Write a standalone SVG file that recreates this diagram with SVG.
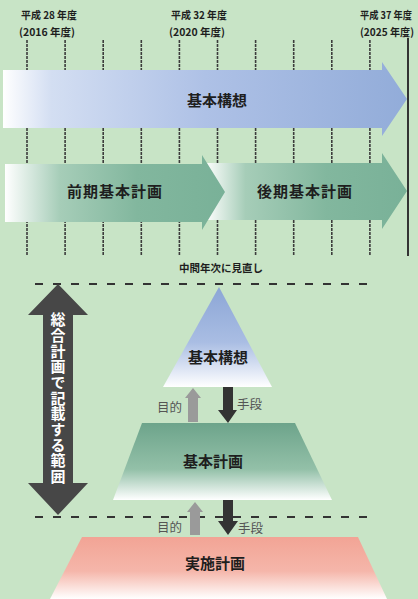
<svg xmlns="http://www.w3.org/2000/svg" width="418" height="599" viewBox="0 0 418 599">
<defs>
<style>
text{font-family:"Noto Sans CJK JP","Noto Sans",sans-serif;fill:#1e1e1e}
.yr{font-size:10.5px;font-weight:bold}
.lbl{font-size:15px;font-weight:bold;text-anchor:middle;dominant-baseline:central}
.small{font-size:12.5px;fill:#555;dominant-baseline:central}
.tick{stroke:#3c3c3c;stroke-width:1.6;stroke-dasharray:3 1}
.dash{stroke:#333;stroke-width:2;stroke-dasharray:8 10;fill:none}
</style>
<linearGradient id="gBlue" x1="0" y1="0" x2="1" y2="0">
<stop offset="0" stop-color="#ffffff"/><stop offset="0.12" stop-color="#d3def2"/><stop offset="0.5" stop-color="#aec1e6"/><stop offset="1" stop-color="#92acd9"/>
</linearGradient>
<linearGradient id="gGreen" x1="0" y1="0" x2="1" y2="0">
<stop offset="0" stop-color="#ffffff"/><stop offset="0.25" stop-color="#a6cdb8"/><stop offset="0.6" stop-color="#82b79e"/><stop offset="1" stop-color="#79b198"/>
</linearGradient>
<linearGradient id="gGreen2" x1="0" y1="0" x2="1" y2="0">
<stop offset="0" stop-color="#ffffff"/><stop offset="0.2" stop-color="#a6cdb8"/><stop offset="0.6" stop-color="#82b79e"/><stop offset="1" stop-color="#79b198"/>
</linearGradient>
<linearGradient id="vBlue" x1="0" y1="0" x2="0" y2="1">
<stop offset="0" stop-color="#8ca6d6"/><stop offset="0.55" stop-color="#a9bde3"/><stop offset="1" stop-color="#ffffff"/>
</linearGradient>
<linearGradient id="vGreen" x1="0" y1="0" x2="0" y2="1">
<stop offset="0" stop-color="#6da48b"/><stop offset="0.6" stop-color="#93c0a8"/><stop offset="1" stop-color="#ffffff"/>
</linearGradient>
<linearGradient id="vPink" x1="0" y1="0" x2="0" y2="1">
<stop offset="0" stop-color="#f2a495"/><stop offset="0.55" stop-color="#f5b6aa"/><stop offset="1" stop-color="#ffffff"/>
</linearGradient>
</defs>
<rect width="418" height="599" fill="#c8e4c6"/>

<g id="timeline">
<line class="tick" x1="27" y1="40" x2="27" y2="256"/>
<line class="tick" x1="65.1" y1="40" x2="65.1" y2="256"/>
<line class="tick" x1="103.2" y1="40" x2="103.2" y2="256"/>
<line class="tick" x1="141.3" y1="40" x2="141.3" y2="256"/>
<line class="tick" x1="179.4" y1="40" x2="179.4" y2="256"/>
<line class="tick" x1="217.5" y1="40" x2="217.5" y2="256"/>
<line class="tick" x1="255.6" y1="40" x2="255.6" y2="256"/>
<line class="tick" x1="293.7" y1="40" x2="293.7" y2="256"/>
<line class="tick" x1="331.8" y1="40" x2="331.8" y2="256"/>
<line class="tick" x1="369.9" y1="40" x2="369.9" y2="256"/>
<line x1="408" y1="38" x2="408" y2="256" stroke="#333" stroke-width="2"/>
<text class="yr" x="21" y="19" textLength="56" lengthAdjust="spacingAndGlyphs">平成 28 年度</text>
<text class="yr" x="19" y="36" textLength="56" lengthAdjust="spacingAndGlyphs">(2016 年度)</text>
<text class="yr" x="171" y="19" textLength="56" lengthAdjust="spacingAndGlyphs">平成 32 年度</text>
<text class="yr" x="169" y="36" textLength="56" lengthAdjust="spacingAndGlyphs">(2020 年度)</text>
<text class="yr" x="360" y="19" textLength="52" lengthAdjust="spacingAndGlyphs">平成 37 年度</text>
<text class="yr" x="360" y="36" textLength="54" lengthAdjust="spacingAndGlyphs">(2025 年度)</text>
</g>

<g id="arrow-kihonkoso">
<polygon points="3,70 382,70 382,62 407,99 382,136 382,128 3,128" fill="url(#gBlue)"/>
<text class="lbl" x="217" y="99">基本構想</text>
</g>
<g id="arrow-kouki">
<polygon points="205,163 382,163 382,153 407,191 382,229 382,220 205,220" fill="url(#gGreen2)"/>
<text class="lbl" x="305" y="190" letter-spacing="1">後期基本計画</text>
</g>
<g id="arrow-zenki">
<polygon points="5,164 202,164 202,155 225,192 202,230 202,222 5,222" fill="url(#gGreen)"/>
<text class="lbl" x="115" y="190" letter-spacing="1">前期基本計画</text>
</g>

<text x="221" y="267" font-size="10.5" font-weight="bold" text-anchor="middle" dominant-baseline="central">中間年次に見直し</text>

<g id="connectors">
<line class="dash" x1="35" y1="284" x2="372" y2="284"/>
<line class="dash" x1="35" y1="517" x2="372" y2="517"/>
<polygon points="193,388 201,398 198,398 198,422 188,422 188,398 185,398" fill="#9a9a9a"/>
<polygon points="223,387 233,387 233,410 237,410 228,423 218,410 223,410" fill="#333"/>
<polygon points="195,502 203,512 200,512 200,535 190,535 190,512 187,512" fill="#9a9a9a"/>
<polygon points="223,500 233,500 233,521 238,521 228,535 218,521 223,521" fill="#333"/>
</g>
<text class="small" x="157" y="406">目的</text>
<text class="small" x="237" y="403">手段</text>
<text class="small" x="157" y="526">目的</text>
<text class="small" x="238" y="527">手段</text>

<g id="scope">
<polygon points="58,284 88,315 73,315 73,483 88,483 58,515 28,483 43,483 43,315 28,315" fill="#474747"/>
<text x="58" y="312" font-size="15" font-weight="bold" style="writing-mode:vertical-rl;fill:#ffffff" letter-spacing="0.7">総合計画で記載する範囲</text>
</g>

<g id="pyr-kihonkoso">
<polygon points="219,287 272,387 163,387" fill="url(#vBlue)"/>
<text class="lbl" x="218" y="356">基本構想</text>
</g>
<g id="pyr-kihonkeikaku">
<polygon points="142,423 295,423 332,500 113,500" fill="url(#vGreen)"/>
<text class="lbl" x="213" y="460">基本計画</text>
</g>
<g id="pyr-jisshi">
<polygon points="82,537 358,537 387,599 50,599" fill="url(#vPink)"/>
<text class="lbl" x="215" y="562">実施計画</text>
</g>
</svg>
